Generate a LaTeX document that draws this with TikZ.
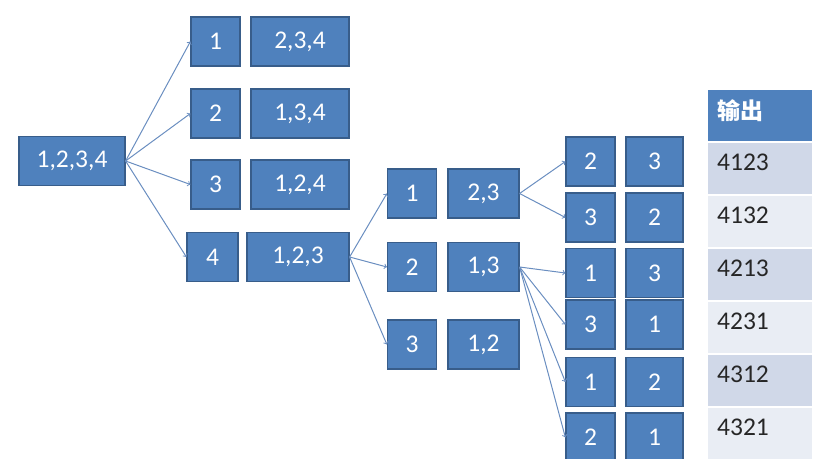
\documentclass[tikz,border=0pt]{standalone}
\usepackage{fontspec}
\setmainfont{Carlito}
\newfontfamily\cjk{Noto Sans CJK SC}
\usepackage{xcolor}
\usepackage{tikz}
\definecolor{boxblue}{HTML}{4F81BD}
\definecolor{boxedge}{HTML}{385D8A}
\definecolor{rowdark}{HTML}{D0D8E8}
\definecolor{rowlight}{HTML}{E9EDF4}
\definecolor{arrowblue}{HTML}{6A8EC0}

\begin{document}
\begin{tikzpicture}[x=1pt,y=-1pt,
    box/.style={draw=boxedge,line width=1.2pt,fill=boxblue,text=white,minimum height=49pt,inner sep=0pt,font=\fontsize{25.5}{30}\selectfont},
    link/.style={->,draw=arrowblue,line width=1pt},
    celltext/.style={anchor=base west,inner sep=0pt,text=black!85,font=\fontsize{25.5}{30}\selectfont}]
    \useasboundingbox (0,0) rectangle (821,458);
    \clip (0,0) rectangle (821,458);

    \node[box,minimum width=106pt] (all) at (72,161) {1,2,3,4};
    \node[box,minimum width=49pt] (a1) at (215.5,41.5) {1};
    \node[box,minimum width=98pt] (r1) at (300,41.5) {2,3,4};
    \node[box,minimum width=49pt] (a2) at (215.5,113.5) {2};
    \node[box,minimum width=98pt] (r2) at (300,113.5) {1,3,4};
    \node[box,minimum width=49pt] (a3) at (215.5,184.5) {3};
    \node[box,minimum width=98pt] (r3) at (300,184.5) {1,2,4};
    \node[box,minimum width=51pt] (a4) at (212.5,257) {4};
    \node[box,minimum width=102pt] (r4) at (298,257) {1,2,3};
    \foreach \i in {1,...,4}
        \draw[link] (all.east) -- (a\i.west);

    \node[box,minimum width=49pt] (b1) at (412,193.5) {1};
    \node[box,minimum width=71pt] (s1) at (483.5,193.5) {2,3};
    \node[box,minimum width=49pt] (b2) at (412,267) {2};
    \node[box,minimum width=71pt] (s2) at (483.5,267) {1,3};
    \node[box,minimum width=49pt] (b3) at (412,344.5) {3};
    \node[box,minimum width=71pt] (s3) at (483.5,344.5) {1,2};
    \foreach \i in {1,2,3}
        \draw[link] (r4.east) -- (b\i.west);

    \foreach \i/\p/\q/\y in {1/2/3/161.5, 2/3/2/217.5, 3/1/3/273, 4/3/1/324.5, 5/1/2/382, 6/2/1/437.5} {
        \node[box,minimum width=49pt] (c\i) at (590.5,\y) {\p};
        \node[box,minimum width=57pt] (d\i) at (654.5,\y) {\q};
    }
    \draw[link] (s1.east) -- (c1.west);
    \draw[link] (s1.east) -- (c2.west);
    \foreach \i in {3,...,6}
        \draw[link] (s2.east) -- (c\i.west);

    \fill[boxblue] (708,90) rectangle (812,141);
    \node[anchor=west,inner sep=0pt,text=white,font=\cjk\bfseries\fontsize{23}{28}\selectfont] (head) at (717,111) {输出};
    \foreach \i/\v/\c in {1/4123/rowdark, 2/4132/rowlight, 3/4213/rowdark, 4/4231/rowlight, 5/4312/rowdark, 6/4321/rowlight} {
        \fill[\c] (708,90+53*\i) rectangle ++(104,51);
        \node[celltext] (o\i) at (717,117+53*\i) {\v};
    }
\end{tikzpicture}
\end{document}
